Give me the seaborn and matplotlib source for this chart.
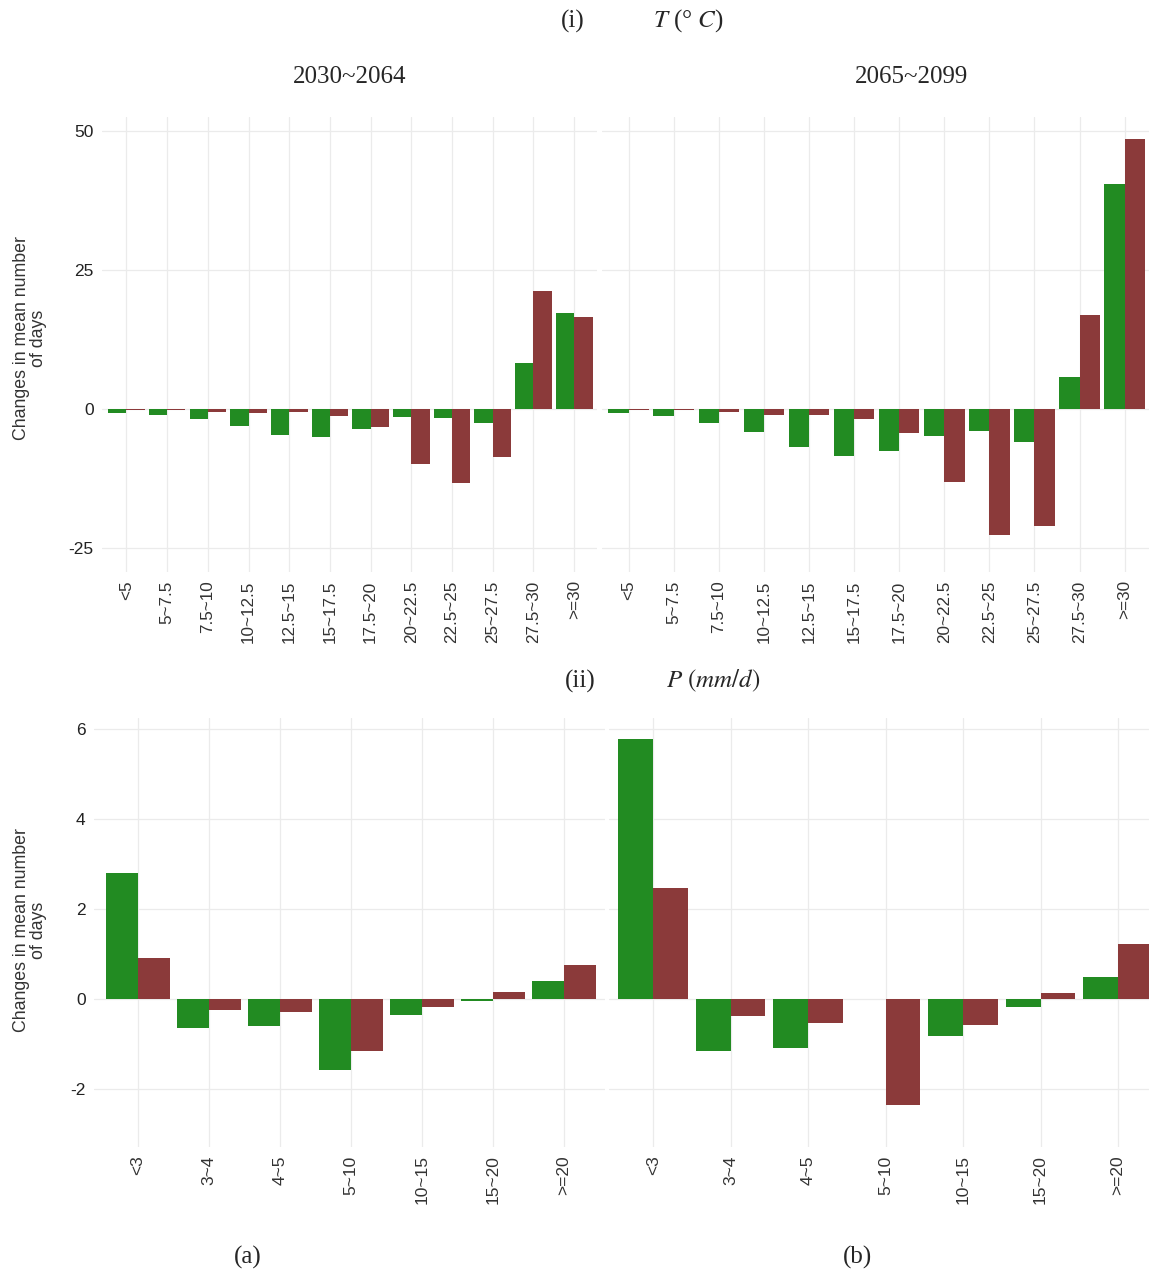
import numpy as np
import pandas as pd
import seaborn as sns
import matplotlib
matplotlib.use("Agg")
import matplotlib.pyplot as plt

# categories
temp_bins = ["<5", "5~7.5", "7.5~10", "10~12.5", "12.5~15", "15~17.5",
             "17.5~20", "20~22.5", "22.5~25", "25~27.5", "27.5~30", ">=30"]
prec_bins = ["<3", "3~4", "4~5", "5~10", "10~15", "15~20", ">=20"]
series_names = ["green", "red"]
palette = ["#228B22", "#8B3A3A"]

# (i) temperature, changes in mean number of days
temp_green_a = [-0.7, -1.0, -1.8, -3.1, -4.7, -5.1, -3.6, -1.4, -1.6, -2.6, 8.3, 17.2]
temp_red_a = [-0.1, -0.25, -0.45, -0.65, -0.45, -1.2, -3.2, -9.8, -13.3, -8.7, 21.2, 16.6]
temp_green_b = [-0.7, -1.2, -2.5, -4.2, -6.8, -8.4, -7.5, -4.9, -4.0, -5.9, 5.8, 40.5]
temp_red_b = [-0.1, -0.2, -0.45, -1.0, -1.0, -1.75, -4.4, -13.1, -22.6, -21.0, 16.9, 48.5]

# (ii) precipitation
prec_green_a = [2.79, -0.65, -0.6, -1.57, -0.36, -0.05, 0.40]
prec_red_a = [0.91, -0.25, -0.28, -1.16, -0.18, 0.16, 0.75]
prec_green_b = [5.78, -1.15, -1.08, np.nan, -0.82, -0.19, 0.48]
prec_red_b = [2.46, -0.39, -0.53, -2.36, -0.58, 0.13, 1.23]

temp_yticks = [-25, 0, 25, 50]
prec_yticks = [-2, 0, 2, 4, 6]

W, H = 1149, 1272


def getData(bins, green, red):
    data = {"bin": [], "series": [], "value": []}
    for name, vals in zip(series_names, [green, red]):
        for b, v in zip(bins, vals):
            data["bin"].append(b)
            data["series"].append(name)
            data["value"].append(v)
    return pd.DataFrame(data)


def box(x0, y0, x1, y1):
    # pixel box -> figure fraction [left, bottom, width, height]
    return [x0 / W, 1 - y1 / H, (x1 - x0) / W, (y1 - y0) / H]


def drawPanel(ax, bins, green, red, xlim, ylim, yticks, show_y, xsize):
    df = getData(bins, green, red)
    sns.barplot(data=df, x="bin", y="value", hue="series", order=bins,
                hue_order=series_names, palette=palette, width=0.9,
                errorbar=None, linewidth=0, legend=False, ax=ax,
                saturation=1)
    ax.set_xlim(*xlim)
    ax.set_ylim(*ylim)
    ax.set_yticks(yticks)
    ax.set_xlabel("")
    ax.set_ylabel("")
    ax.set_axisbelow(True)
    ax.grid(True, color="#EBEBEB", linewidth=0.9)
    for spine in ax.spines.values():
        spine.set_visible(False)
    ax.tick_params(axis="x", rotation=90, labelsize=xsize, length=3, width=1,
                   color="#555555", labelcolor="#333333", pad=3)
    ax.tick_params(axis="y", length=0, labelsize=12.5, labelcolor="#222222", pad=6)
    if not show_y:
        ax.tick_params(axis="y", labelleft=False)
    ax.set_facecolor("white")


sns.set_theme(style="white")
plt.rcParams["font.family"] = ["Liberation Sans", "DejaVu Sans"]
plt.rcParams["mathtext.fontset"] = "stix"
plt.rcParams["axes.unicode_minus"] = False

fig = plt.figure(figsize=(W / 100, H / 100), dpi=100)
fig.patch.set_facecolor("white")

ax1 = fig.add_axes(box(102, 117, 597, 572))
ax2 = fig.add_axes(box(602, 117, 1149, 572))
ax3 = fig.add_axes(box(94, 718, 605, 1147))
ax4 = fig.add_axes(box(609, 718, 1149, 1147))

temp_ylim = (-29.3, 52.5)
prec_ylim = (-3.29, 6.24)
drawPanel(ax1, temp_bins, temp_green_a, temp_red_a, (-0.6, 11.56), temp_ylim, temp_yticks, True, 12.3)
drawPanel(ax2, temp_bins, temp_green_b, temp_red_b, (-0.59, 11.54), temp_ylim, temp_yticks, False, 12.3)
drawPanel(ax3, prec_bins, prec_green_a, prec_red_a, (-0.62, 6.58), prec_ylim, prec_yticks, True, 12.5)
drawPanel(ax4, prec_bins, prec_green_b, prec_red_b, (-0.57, 6.4), prec_ylim, prec_yticks, False, 12.5)

serif = ["Liberation Serif", "DejaVu Serif"]
fs = 18
fig.text(573 / W, 1 - 21 / H, "(i)", family=serif, fontsize=fs, ha="center", va="center")
fig.text(688 / W, 1 - 21 / H, r"$T$ (° $C$)", family=serif, fontsize=fs, ha="center", va="center")
fig.text(350 / W, 1 - 77 / H, "2030~2064", family=serif, fontsize=fs, ha="center", va="center")
fig.text(911 / W, 1 - 77 / H, "2065~2099", family=serif, fontsize=fs, ha="center", va="center")
fig.text(580 / W, 1 - 681 / H, "(ii)", family=serif, fontsize=fs, ha="center", va="center")
fig.text(713 / W, 1 - 681 / H, r"$P\ (mm/d)$", family=serif, fontsize=fs, ha="center", va="center")
fig.text(248 / W, 1 - 1257 / H, "(a)", family=serif, fontsize=fs, ha="center", va="center")
fig.text(858 / W, 1 - 1257 / H, "(b)", family=serif, fontsize=fs, ha="center", va="center")

ylab = "Changes in mean number\nof days"
fig.text(30 / W, 1 - 338 / H, ylab, rotation=90, fontsize=12.8, color="#333333",
         ha="center", va="center", multialignment="center", linespacing=1.0)
fig.text(30 / W, 1 - 930 / H, ylab, rotation=90, fontsize=12.8, color="#333333",
         ha="center", va="center", multialignment="center", linespacing=1.0)

fig.savefig("out.png", dpi=100, facecolor="white")
